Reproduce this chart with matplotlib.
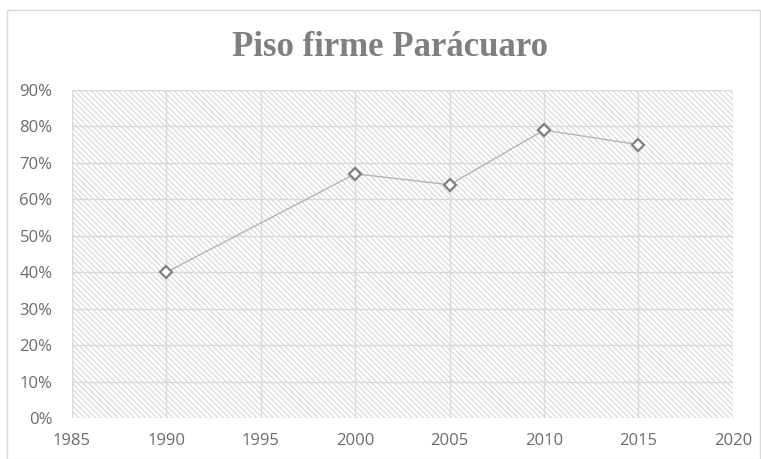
import matplotlib.pyplot as plt
from matplotlib.patches import Rectangle
from matplotlib.ticker import PercentFormatter

years = [1990, 2000, 2005, 2010, 2015]
values = [0.40, 0.67, 0.64, 0.79, 0.75]
x_ticks = [1985, 1990, 1995, 2000, 2005, 2010, 2015, 2020]
y_ticks = [0.0, 0.1, 0.2, 0.3, 0.4, 0.5, 0.6, 0.7, 0.8, 0.9]

plt.rcParams["hatch.linewidth"] = 0.8
plt.rcParams["hatch.color"] = "#d9d9d9"

fig = plt.figure(figsize=(7.61, 4.59), dpi=100)
fig.patch.set_facecolor("white")
fig.patches.append(Rectangle((0.009, 0.0), 0.99, 0.978, transform=fig.transFigure,
                             fill=False, edgecolor="#d9d9d9", linewidth=1.0))

ax = fig.add_axes([0.0946, 0.0893, 0.8684, 0.7147])
ax.set_facecolor("white")
ax.add_patch(Rectangle((0, 0), 1, 1, transform=ax.transAxes, facecolor="white",
                       edgecolor="#d6d6d6", hatch="\\\\\\\\\\\\", linewidth=0, zorder=0))

ax.plot(years, values, color="#b4b4b4", linewidth=1.0, zorder=3,
        marker="D", markersize=6.5, markerfacecolor="white",
        markeredgecolor="#7f7f7f", markeredgewidth=1.6)

ax.set_xlim(1985, 2020)
ax.set_ylim(0, 0.9)
ax.set_xticks(x_ticks)
ax.set_yticks(y_ticks)
ax.yaxis.set_major_formatter(PercentFormatter(1.0, decimals=0))
ax.grid(True, color="#d9d9d9", linewidth=1.0, zorder=1)
ax.set_axisbelow(True)
for s in ax.spines.values():
    s.set_visible(False)
ax.tick_params(length=0, labelsize=12, labelcolor="#6b6b6b")
ax.tick_params(axis="x", pad=11)
ax.tick_params(axis="y", pad=14)
for lab in ax.get_xticklabels() + ax.get_yticklabels():
    lab.set_family("Open Sans")
    lab.set_fontsize(12)

fig.text(0.513, 0.897, "Piso firme Parácuaro", ha="center", va="center",
         fontsize=25, fontweight="bold", color="#7f7f7f", family="Liberation Serif")

fig.savefig("out.png", dpi=100)
